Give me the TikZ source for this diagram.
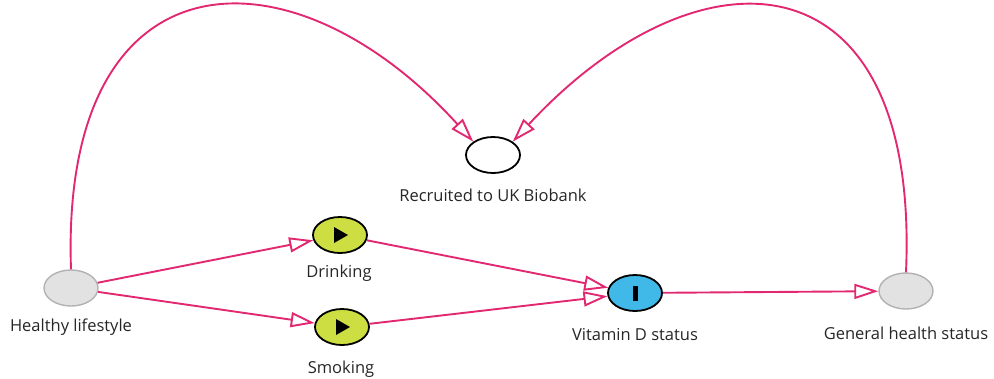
\documentclass[tikz,border=0pt]{standalone}
\usepackage{fontspec}
\setmainfont{Open Sans}
\usetikzlibrary{arrows.meta,shapes.geometric}
\definecolor{edgepink}{RGB}{226,40,112}
\definecolor{latentgray}{RGB}{226,226,226}
\definecolor{exposuregreen}{RGB}{204,222,66}
\definecolor{outcomeblue}{RGB}{64,184,232}
\tikzset{
  var/.style={draw,ellipse,minimum width=54pt,minimum height=36pt,inner sep=0pt,line width=1.8pt},
  latent/.style={var,fill=latentgray,draw=black!30,line width=1.4pt},
  exposure/.style={var,fill=exposuregreen},
  outcome/.style={var,fill=outcomeblue},
  selected/.style={var,fill=white},
  varlabel/.style={font=\fontsize{16.5}{19}\selectfont,text=black!85},
  causal/.style={edgepink,line width=1.9pt,-{Triangle[open,length=24pt,width=15pt,fill=white]}}
}
\begin{document}
\begin{tikzpicture}[x=1pt,y=-1pt]
        \useasboundingbox (0,0) rectangle (994,378);
        %% Nodes
        \node[latent] (H) at (71,288) {};
        \node[exposure] (D) at (340,235) {};
        \node[exposure] (S) at (342,327) {};
        \node[outcome] (V) at (635,293) {};
        \node[latent] (G) at (906,291) {};
        \node[selected] (R) at (493,155) {};
        %% Labels
        \node[varlabel] (Hl) at (71,327) {Healthy lifestyle};
        \node[varlabel] (Dl) at (339,273) {Drinking};
        \node[varlabel] (Sl) at (341,369) {Smoking};
        \node[varlabel] (Vl) at (635,335) {Vitamin D status};
        \node[varlabel] (Gl) at (906,333) {General health status};
        \node[varlabel] (Rl) at (493,195) {Recruited to UK Biobank};
        %% Symbols
        \fill (D.center) ++(-6,-8) -- ++(14,8) -- ++(-14,8) -- cycle;
        \fill (S.center) ++(-6,-8) -- ++(14,8) -- ++(-14,8) -- cycle;
        \fill (V.center) ++(-2.5,-7.5) rectangle ++(5,15);
        %% Edges
        \draw[causal] (H) -- (D);
        \draw[causal] (H) -- (S);
        \draw[causal] (D) -- (V);
        \draw[causal] (S) -- (V);
        \draw[causal] (V) -- (G);
        \draw[causal] (H.north) .. controls (60,-50) and (290,-60) .. (R.north west);
        \draw[causal] (G.north) .. controls (920,-50) and (700,-60) .. (R.north east);
    \end{tikzpicture}
\end{document}
